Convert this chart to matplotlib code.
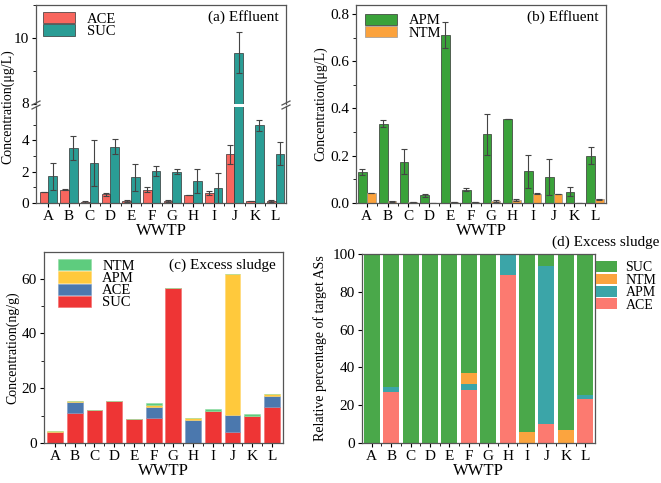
import numpy as np
import matplotlib.pyplot as plt
from matplotlib.ticker import MultipleLocator, FixedLocator

plt.rcParams['font.family'] = ['Liberation Serif', 'DejaVu Serif']

sites = ["A", "B", "C", "D", "E", "F", "G", "H", "I", "J", "K", "L"]

# (a) effluent, ug/L
ace_eff = [0.70, 0.85, 0.07, 0.55, 0.15, 0.85, 0.12, 0.50, 0.65, 3.10, 0.12, 0.12]
ace_eff_err = [0.02, 0.03, 0.04, 0.08, 0.07, 0.15, 0.04, 0.0, 0.13, 0.60, 0.02, 0.08]
suc_eff = [1.70, 3.50, 2.53, 3.60, 1.64, 2.04, 2.00, 1.41, 0.97, 9.55, 4.95, 3.15]
suc_eff_err = [0.85, 0.75, 1.47, 0.47, 0.86, 0.34, 0.15, 0.77, 0.97, 0.62, 0.33, 0.75]

# (b) effluent, ug/L
apm_eff = [0.130, 0.335, 0.175, 0.032, 0.710, 0.057, 0.290, 0.355, 0.135, 0.110, 0.048, 0.200]
apm_eff_err = [0.012, 0.015, 0.052, 0.008, 0.055, 0.008, 0.085, 0.001, 0.070, 0.075, 0.020, 0.035]
ntm_eff = [0.042, 0.008, 0.005, 0.0, 0.005, 0.005, 0.010, 0.013, 0.040, 0.038, 0.001, 0.015]
ntm_eff_err = [0.001, 0.002, 0.001, 0.0, 0.001, 0.001, 0.004, 0.006, 0.002, 0.001, 0.0, 0.001]

# (c) excess sludge, ng/g
suc_sl = [4.1, 10.9, 12.2, 15.3, 8.6, 9.3, 56.7, 0.0, 11.6, 4.0, 9.8, 13.3]
ace_sl = [0.0, 4.1, 0.0, 0.0, 0.0, 3.9, 0.0, 8.4, 0.0, 6.3, 0.0, 4.0]
apm_sl = [0.2, 0.4, 0.0, 0.1, 0.2, 0.7, 0.0, 0.8, 0.0, 51.5, 0.0, 0.5]
ntm_sl = [0.0, 0.0, 0.0, 0.0, 0.0, 0.8, 0.0, 0.0, 0.9, 0.0, 0.7, 0.0]

# (d) relative percentage
ace_pct = [0, 27.0, 0, 0, 0, 28.3, 0, 89.0, 0, 10.3, 0, 23.5]
apm_pct = [0, 2.5, 0, 0, 0, 3.0, 0, 11.0, 0, 83.4, 0, 2.0]
ntm_pct = [0, 0, 0, 0, 0, 6.0, 0, 0, 6.0, 0, 7.0, 0]
suc_pct = [100, 70.5, 100, 100, 100, 62.7, 100, 0, 94.0, 6.3, 93.0, 74.5]

x = np.arange(len(sites))
W, H = 661, 483


def box(l, t, r, b):
    return [l / W, 1 - b / H, (r - l) / W, (b - t) / H]


def style(ax, xt=True):
    ax.tick_params(axis='both', direction='out', labelsize=11, length=3, width=0.8, pad=2)
    ax.tick_params(axis='both', which='minor', direction='out', length=2, width=0.6)
    for s in ax.spines.values():
        s.set_color('#555555')
        s.set_linewidth(0.9)
    ax.set_xticks(x)
    ax.set_xticks(x[:-1] + 0.5, minor=True)
    if xt:
        ax.set_xticklabels(sites)
    else:
        ax.set_xticklabels([])


leg_kw = dict(frameon=False, fontsize=10.5, handlelength=2.2, handleheight=0.8,
              labelspacing=-0.1, handletextpad=0.8)

fig = plt.figure(figsize=(W / 100, H / 100), dpi=100)

err_kw = dict(ecolor='#444444', elinewidth=0.8, capsize=2, capthick=0.8)
bw = 0.42

# ---- (a) broken axis
ax_lo = fig.add_axes(box(36, 106.5, 286, 203))
ax_hi = fig.add_axes(box(36, 5, 286, 103.5))
for ax in (ax_lo, ax_hi):
    ax.bar(x - bw / 2, ace_eff, bw, yerr=ace_eff_err, color='#F8665E',
           edgecolor='#333333', linewidth=0.5, error_kw=err_kw, label='ACE')
    ax.bar(x + bw / 2, suc_eff, bw, yerr=suc_eff_err, color='#2A9D95',
           edgecolor='#333333', linewidth=0.5, error_kw=err_kw, label='SUC')
    ax.set_xlim(-0.6, 11.5)
ax_lo.set_ylim(0, 6.15)
ax_hi.set_ylim(8, 11)
style(ax_lo)
style(ax_hi, xt=False)
ax_lo.yaxis.set_major_locator(FixedLocator([0, 2, 4]))
ax_lo.yaxis.set_minor_locator(FixedLocator([1, 3, 5]))
ax_hi.yaxis.set_major_locator(FixedLocator([8, 10]))
ax_hi.yaxis.set_minor_locator(FixedLocator([9, 11]))
ax_lo.spines['top'].set_visible(False)
ax_hi.spines['bottom'].set_visible(False)
ax_hi.tick_params(axis='x', which='both', bottom=False)
ax_lo.set_xlabel('WWTP', fontsize=12, labelpad=0)
ax_hi.legend(loc='upper left', borderaxespad=0.1, bbox_to_anchor=(0.0, 1.0), **leg_kw)
ax_hi.text(0.97, 0.95, '(a) Effluent', transform=ax_hi.transAxes,
           ha='right', va='top', fontsize=11)
# break marks
for xf in (36, 286):
    for dy in (-2, 2):
        fig.add_artist(plt.Line2D([(xf - 4) / W, (xf + 4) / W],
                                  [1 - (105 + dy + 2) / H, 1 - (105 + dy - 2) / H],
                                  color='#555555', lw=0.9))
fig.text(8 / W, 1 - 107 / H, 'Concentration(μg/L)', rotation=90,
         ha='center', va='center', fontsize=10)

# ---- (b)
axb = fig.add_axes(box(356, 5, 606, 203))
axb.bar(x - bw / 2, apm_eff, bw, yerr=apm_eff_err, color='#3AA23A',
        edgecolor='#333333', linewidth=0.5, error_kw=err_kw, label='APM')
axb.bar(x + bw / 2, ntm_eff, bw, yerr=ntm_eff_err, color='#FBA23C',
        edgecolor='#999999', linewidth=0.5, error_kw=err_kw, label='NTM')
axb.set_xlim(-0.52, 11.53)
axb.set_ylim(0, 0.838)
style(axb)
axb.yaxis.set_major_locator(MultipleLocator(0.2))
axb.yaxis.set_minor_locator(MultipleLocator(0.1))
axb.yaxis.set_major_formatter(plt.FormatStrFormatter('%.1f'))
axb.set_xlabel('WWTP', fontsize=12, labelpad=0)
axb.set_ylabel('Concentration(μg/L)', fontsize=10, labelpad=2)
axb.legend(loc='upper left', borderaxespad=0.2, **leg_kw)
axb.text(0.97, 0.975, '(b) Effluent', transform=axb.transAxes,
         ha='right', va='top', fontsize=11)

# ---- (c) stacked
axc = fig.add_axes(box(44, 252, 283, 443))
b1 = np.array(suc_sl)
b2 = b1 + np.array(ace_sl)
b3 = b2 + np.array(apm_sl)
axc.bar(x, suc_sl, 0.8, color='#EE3535', edgecolor='#F46A6A', linewidth=0.4, label='SUC')
axc.bar(x, ace_sl, 0.8, bottom=b1, color='#4B78AE', edgecolor='#7A9AC4', linewidth=0.4, label='ACE')
axc.bar(x, apm_sl, 0.8, bottom=b2, color='#FFC93C', edgecolor='#FFD870', linewidth=0.4, label='APM')
axc.bar(x, ntm_sl, 0.8, bottom=b3, color='#5ECC7E', edgecolor='#8FDCA3', linewidth=0.4, label='NTM')
axc.set_xlim(-0.56, 11.56)
axc.set_ylim(0, 69.7)
style(axc)
axc.yaxis.set_major_locator(MultipleLocator(20))
axc.yaxis.set_minor_locator(MultipleLocator(10))
axc.set_xlabel('WWTP', fontsize=12, labelpad=0)
axc.set_ylabel('Concentration(ng/g)', fontsize=10, labelpad=2)
h, l = axc.get_legend_handles_labels()
axc.legend(h[::-1], l[::-1], loc='upper left', borderaxespad=0.1,
           bbox_to_anchor=(0.03, 1.0), **leg_kw)
axc.text(0.97, 0.965, '(c) Excess sludge', transform=axc.transAxes,
         ha='right', va='top', fontsize=11)

# ---- (d) percentage
axd = fig.add_axes(box(362, 254, 595, 443))
p1 = np.array(ace_pct)
p2 = p1 + np.array(apm_pct)
p3 = p2 + np.array(ntm_pct)
dw = 0.82
axd.bar(x, ace_pct, dw, color='#FC7A70', label='ACE')
axd.bar(x, apm_pct, dw, bottom=p1, color='#3BA5A8', label='APM')
axd.bar(x, ntm_pct, dw, bottom=p2, color='#FBA43F', label='NTM')
axd.bar(x, suc_pct, dw, bottom=p3, color='#4AA84A', label='SUC')
axd.set_xlim(-0.5, 11.5)
axd.set_ylim(0, 100)
style(axd)
axd.yaxis.set_major_locator(MultipleLocator(20))
axd.set_xlabel('WWTP', fontsize=12, labelpad=0)
axd.set_ylabel('Relative percentage of target ASs', fontsize=10, labelpad=4)
h, l = axd.get_legend_handles_labels()
axd.legend(h[::-1], l[::-1], loc='upper left', frameon=False, fontsize=10,
           handlelength=1.5, handleheight=0.8, labelspacing=-0.05, borderpad=0.0,
           borderaxespad=0.1, handletextpad=0.6, bbox_to_anchor=(1.0, 0.97))
fig.text(659 / W, 1 - 242 / H, '(d) Excess sludge', ha='right', va='center', fontsize=11)

fig.savefig('out.png', dpi=100)
